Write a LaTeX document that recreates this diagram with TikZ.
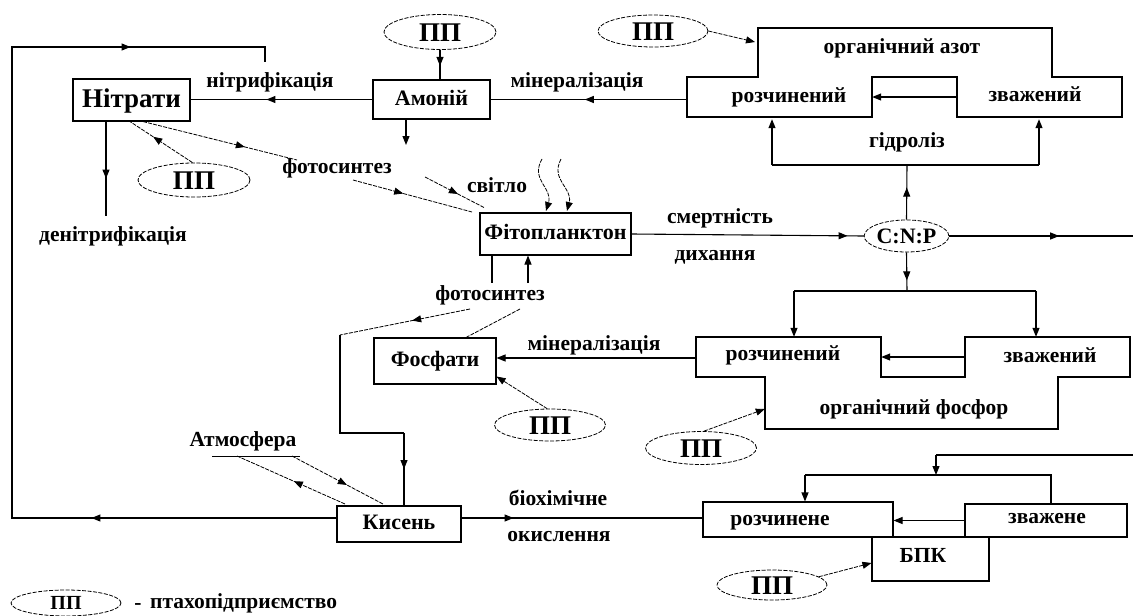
\documentclass[tikz,border=0pt]{standalone}
\usepackage{fontspec}
\setmainfont{Liberation Serif}
\usetikzlibrary{arrows.meta,decorations.markings,shapes.geometric}
\begin{document}
\tikzset{
 every node/.style={font=\bfseries\fontsize{21.5}{23}\selectfont, inner sep=0pt, text height=15pt, text depth=4pt},
 box/.style={draw, line width=1.1pt},
 ghost/.style={draw=none},
 ln/.style={line width=1.1pt},
 dl/.style={line width=0.8pt, dash pattern=on 4pt off 1.2pt},
 pp/.style={ellipse, draw, line width=0.8pt, dash pattern=on 4pt off 1.5pt, font=\bfseries\fontsize{27}{28}\selectfont, text height=18pt, text depth=0pt},
 tip/.style={-{Triangle[length=9pt,width=7pt]}},
 marr/.style={postaction={decorate,decoration={markings,mark=at position #1 with {\arrow{Triangle[length=9pt,width=7pt]}}}}},
}
\begin{tikzpicture}[x=1pt,y=-1pt]
\useasboundingbox (0,0) rectangle (1133,616);

% ---------- main boxes ----------
\node[box, minimum width=117pt, minimum height=42pt, text height=18pt, text depth=3pt] (nitr) at (131.5,100) {\fontsize{27}{28}\selectfont Нітрати};
\node[box, minimum width=117pt, minimum height=39pt] (am) at (431.5,99.5) {\fontsize{22}{24}\selectfont Амоній};
\node[box, minimum width=151pt, minimum height=42pt] (fito) at (555.5,234) {\fontsize{22}{24}\selectfont Фітопланктон};
\node[box, minimum width=122pt, minimum height=46pt] (fosf) at (435,361) {\fontsize{22}{24}\selectfont Фосфати};
\node[box, minimum width=124pt, minimum height=36pt] (kys) at (399,524) {\fontsize{22}{24}\selectfont Кисень};
\node[ellipse, draw, line width=0.8pt, dash pattern=on 4pt off 1.5pt, minimum width=83pt, minimum height=32pt, text depth=0pt] (cnp) at (906.5,236) {\fontsize{22}{24}\selectfont C:N:P};

% ---------- PP ellipses ----------
\node[pp, minimum width=112pt, minimum height=35pt] (pp1) at (440,32) {ПП};
\node[pp, minimum width=110pt, minimum height=32pt] (pp2) at (653,31) {ПП};
\node[pp, minimum width=112pt, minimum height=34pt] (pp3) at (194,180) {ПП};
\node[pp, minimum width=111pt, minimum height=32pt] (pp4) at (550,425) {ПП};
\node[pp, minimum width=111pt, minimum height=33pt] (pp5) at (701,448) {ПП};
\node[pp, minimum width=110pt, minimum height=30pt] (pp6) at (772,585) {ПП};
\node[pp, minimum width=110pt, minimum height=26pt, font=\bfseries\fontsize{20}{22}\selectfont, text height=13pt] (ppl) at (66,603) {ПП};
\node (dash) at (138,604) {-};
\node[anchor=west] (legend) at (150,603) {птахопідприємство};

% ---------- organic nitrogen ----------
\draw[ln] (687,77) -- (758,77) -- (758,28) -- (1052,28) -- (1052,77) -- (1122,77) -- (1122,117)
  -- (957,117) -- (957,77) -- (872,77) -- (872,117) -- (687,117) -- cycle;
\node[ghost, minimum width=185pt, minimum height=40pt] (rozN) at (779.5,97) {};
\node[ghost, minimum width=165pt, minimum height=40pt] (zvN) at (1039.5,97) {};
\node (orgNt) at (902,48) {органічний азот};
\node (rozNt) at (789,97) {розчинений};
\node (zvNt) at (1035,96) {зважений};

% ---------- organic phosphorus ----------
\draw[ln] (696,337) -- (881,337) -- (881,377) -- (965,377) -- (965,337) -- (1130,337) -- (1130,377)
  -- (1058,377) -- (1058,429) -- (765,429) -- (765,377) -- (696,377) -- cycle;
\node[ghost, minimum width=185pt, minimum height=40pt] (rozP) at (788.5,357) {};
\node[ghost, minimum width=165pt, minimum height=40pt] (zvP) at (1047.5,357) {};
\node[ghost, minimum width=293pt, minimum height=52pt] (orgP) at (911.5,403) {};
\node (rozPt) at (783,355) {розчинений};
\node (zvPt) at (1050,357) {зважений};
\node (orgPt) at (914,409) {органічний фосфор};

% ---------- BOD ----------
\node[box, minimum width=190pt, minimum height=35pt] (rozB) at (798,519.5) {};
\node[box, minimum width=162pt, minimum height=33pt] (zvB) at (1046,520.5) {};
\node[box, minimum width=117pt, minimum height=44pt] (bpk) at (930.5,559) {};
\node (rozBt) at (780,520) {розчинене};
\node (zvBt) at (1047,518) {зважене};
\node[text depth=0pt] (bpkt) at (923,555) {БПК};

% ---------- labels ----------
\node (nitrif) at (270,82) {нітрифікація};
\node (minN) at (577,82) {мінералізація};
\node (hydr) at (907,142) {гідроліз};
\node (fot1) at (337,168) {фотосинтез};
\node (svit) at (497,187) {світло};
\node (denit) at (113,236) {денітрифікація};
\node (smert) at (720,218) {смертність};
\node (dykh) at (715,255) {дихання};
\node (fot2) at (490,295) {фотосинтез};
\node (minP) at (594,345) {мінералізація};
\node (atm) at (243,441) {Атмосфера};
\node (bioh) at (558,500) {біохімічне};
\node (okys) at (559,536) {окислення};

% ---------- coordinates ----------
\coordinate (loopEnd) at (265,62);
\coordinate (denEnd) at (106,216);
\coordinate (amDown) at (406,145);
\coordinate (f1a) at (297,160);
\coordinate (f1b) at (353,180);
\coordinate (f1c) at (472,212);
\coordinate (sv1) at (425,177);
\coordinate (sv2) at (485,208);
\coordinate (hydL) at (772,165);
\coordinate (hydR) at (1039,165);
\coordinate (hydM) at (907,165);
\coordinate (pdM) at (907,291);
\coordinate (pdL) at (794,291);
\coordinate (pdR) at (1036,291);
\coordinate (edge1) at (1133,236);
\coordinate (edge2) at (1133,455);
\coordinate (bk1) at (936,455);
\coordinate (bk2) at (936,475);
\coordinate (bkL) at (805,475);
\coordinate (bkR) at (1051,475);
\coordinate (fa) at (492,283);
\coordinate (fb) at (528,283);
\coordinate (o1) at (470,309);
\coordinate (o2) at (340,335);
\coordinate (o3) at (340,433);
\coordinate (o4) at (404,433);
\coordinate (ph1) at (520,309);
\coordinate (ph2) at (465,338);
\coordinate (at1) at (237,456);
\coordinate (at2) at (292,456);
\coordinate (atL) at (212,456);
\coordinate (atR) at (300,456);
\coordinate (ka) at (345,504);
\coordinate (kb) at (383,504);

% ---------- connectors ----------
% outer loop
\draw[ln, marr=245pt, marr=914pt] ([yshift=6pt]kys.west) -- (12,518) -- (12,47) -- (265,47) -- (loopEnd);
% ammonium -> nitrates
\draw[ln, marr=106pt] (am.west) -- (am.west -| nitr.east);
\draw[ln, marr=16pt] (pp1.south) -- (pp1.south |- am.north);
\draw[ln, tip] ([xshift=-25.5pt]am.south) -- (amDown);
% organic N -> ammonium
\draw[ln, marr=102pt] (rozN.west |- am.east) -- (am.east);
\draw[ln, tip] (zvN.west) -- (rozN.east);
\draw[dl, tip] (pp2.east) -- (755,42);
% denitrification
\draw[ln, marr=57pt] ([xshift=-25.5pt]nitr.south) -- (denEnd);
\draw[dl, marr=47pt] (pp3.95) -- ([xshift=-1.5pt]nitr.south);
% photosynthesis from nitrates
\draw[dl, marr=105pt] ([xshift=11.5pt]nitr.south) -- (f1a);
\draw[dl, marr=52pt] (f1b) -- (f1c);
\draw[dl, marr=37pt] (sv1) -- (sv2);
% light waves
\draw[dl, tip] (542,159) .. controls (530,180) and (553,188) .. (546,211);
\draw[dl, tip] (561,159) .. controls (550,180) and (573,188) .. (567,211);
% phyto -> CNP
\draw[ln, marr=216pt] (fito.east) -- (cnp.west);
\draw[ln, marr=110pt] (cnp.east) -- (edge1);
% hydrolysis
\draw[ln, marr=32pt] (cnp.north) -- (hydM);
\draw[ln] (hydL) -- (hydR);
\draw[ln, tip, shorten >=2pt] (hydL) -- (hydL |- rozN.south);
\draw[ln, tip, shorten >=2pt] (hydR) -- (hydR |- zvN.south);
% CNP -> organic P
\draw[ln, marr=28pt] (cnp.south) -- (pdM);
\draw[ln] (pdL) -- (pdR);
\draw[ln, tip] (pdL) -- (pdL |- rozP.north);
\draw[ln, tip] (pdR) -- (pdR |- zvP.north);
\draw[ln, tip] (zvP.west) -- (rozP.east);
\draw[ln, tip] ([yshift=-1pt]rozP.west) -- ([yshift=-1pt]rozP.west -| fosf.east);
\draw[dl, tip] (pp4.100) -- ([yshift=8pt]fosf.south east);
\draw[dl, tip] (pp5.80) -- ([yshift=-6pt]orgP.west);
% phyto bottom / photosynthesis
\draw[ln] ([xshift=-63.5pt]fito.south) -- (fa);
\draw[ln, tip] (fb) -- ([xshift=-27.5pt]fito.south);
\draw[dl, marr=59pt] (o1) -- (o2);
\draw[ln] (o2) -- (o3) -- (o4);
\draw[ln, marr=36pt] (o4) -- ([xshift=5pt]kys.north);
\draw[dl] (ph1) -- (ph2);
% atmosphere
\draw[ln, line width=0.8pt] (atL) -- (atR);
\draw[dl, marr=56pt] (ka) -- (at1);
\draw[dl, marr=62pt] (at2) -- (kb);
% oxygen -> BOD
\draw[ln, marr=52pt] ([yshift=6pt]kys.east) -- ([yshift=6pt]kys.east -| rozB.west);
\draw[ln] (edge2) -- (bk1);
\draw[ln, tip] (bk1) -- (bk2);
\draw[ln] (bkL) -- (bkR) -- (bkR |- zvB.north);
\draw[ln, tip] (bkL) -- (bkL |- rozB.north);
\draw[ln, tip] (zvB.west) -- (zvB.west -| rozB.east);
\draw[dl, tip] (pp6.10) -- ([yshift=-4pt]bpk.west);
\end{tikzpicture}
\end{document}
